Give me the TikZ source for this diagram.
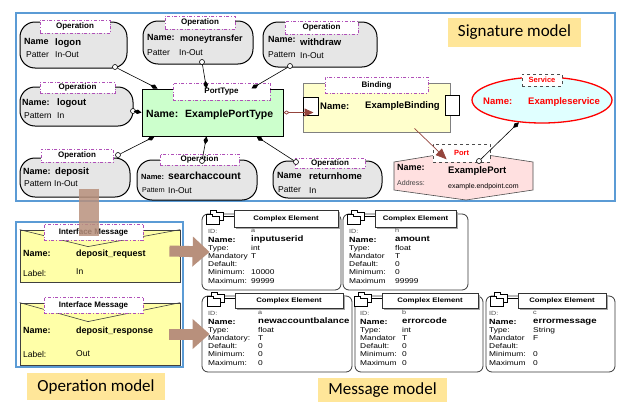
\documentclass[tikz,border=0pt]{standalone}
\usepackage{fontspec}
\setmainfont{Liberation Sans}
\newfontfamily\calib{Carlito}
\newfontfamily\cefont[FakeStretch=1.2]{Liberation Sans}
\usetikzlibrary{arrows.meta,calc,shapes.geometric,shadows}

\definecolor{opgray}{HTML}{E6E6E6}
\definecolor{tabpurple}{HTML}{B050B8}
\definecolor{frameblue}{HTML}{5B9BD5}
\definecolor{labelgold}{HTML}{FFE699}
\definecolor{ptgreen}{HTML}{CCFFCC}
\definecolor{bindyellow}{HTML}{FFFFCC}
\definecolor{envyellow}{HTML}{FFFFA8}
\definecolor{servcyan}{HTML}{E0FFFF}
\definecolor{portpink}{HTML}{FFE0E0}
\definecolor{blockbrown}{HTML}{B8907C}
\definecolor{linkbrown}{HTML}{94443C}

\tikzset{frameline/.style = {draw=black, line width=0.6pt, double, double distance=1.2pt},
         modelframe/.style = {draw=frameblue, line width=1.2pt},
         modellabel/.style = {fill=labelgold, inner sep=0pt, font=\calib\fontsize{17}{19}\selectfont},
         opbox/.style = {draw, line width=1pt, fill=opgray, rounded corners=15pt},
         optab/.style = {draw=tabpurple, dash dot, line width=0.7pt, fill=white, inner sep=0pt,
                         font=\fontsize{8}{9}\selectfont\bfseries},
         greytab/.style = {draw=gray!60!black, dashed, line width=0.7pt, fill=white, inner sep=0pt,
                           text=red, font=\fontsize{7.5}{8}\selectfont\bfseries},
         lbl/.style = {anchor=base west, inner sep=0pt},
         nm/.style = {lbl, font=\fontsize{9}{10}\selectfont\bfseries},
         opv/.style = {lbl, font=\fontsize{9.5}{11}\selectfont\bfseries},
         pat/.style = {lbl, font=\fontsize{8.5}{10}\selectfont},
         big/.style = {lbl, font=\fontsize{10.5}{12}\selectfont\bfseries},
         mid/.style = {lbl, font=\fontsize{9.5}{11}\selectfont\bfseries},
         small/.style = {lbl, font=\fontsize{7}{8}\selectfont},
         pin/.style = {circle, draw, line width=0.6pt, fill=white, inner sep=0pt, minimum size=5pt},
         comp/.style = {draw, line width=0.6pt, -{Diamond[length=8pt,width=4.5pt]}},
         link/.style = {draw=linkbrown, line width=0.7pt,
                        {Diamond[open,length=6pt,width=4pt]}-{Triangle[length=9pt,width=8pt]}},
         envbox/.style = {draw=black!75, line width=0.8pt, fill=envyellow},
         blockarrow/.style = {draw=blockbrown, line width=11pt, -{Triangle[length=17pt,width=29pt]}},
         blockshaft/.style = {draw=blockbrown, line width=20pt, draw opacity=0.85},
         cebox/.style = {draw=gray!45!black, line width=0.8pt, rounded corners=6pt, fill=white},
         cehead/.style = {draw=black!80, line width=0.6pt, fill=white, inner sep=0pt,
                          font=\cefont\fontsize{6.5}{7}\selectfont\bfseries,
                          drop shadow={shadow xshift=1.5pt, shadow yshift=-1.5pt, fill=gray!70, opacity=1}},
         ceid/.style = {lbl, text=black!70, font=\cefont\fontsize{6}{7}\selectfont},
         cename/.style = {lbl, font=\cefont\fontsize{7.5}{8}\selectfont\bfseries},
         ceval/.style = {lbl, font=\cefont\fontsize{8}{9}\selectfont\bfseries},
         cetxt/.style = {lbl, font=\cefont\fontsize{7}{8}\selectfont},
         folder/.pic = {
           \draw[line width=0.5pt, fill=white] (-23,-6) -- (-23,-8) -- (-17,-8) -- (-17,-6) -- (-10,-6) -- (-10,2) -- (-23,2) -- cycle;
           \draw[line width=0.5pt, fill=white] (-27,-2) -- (-27,-4) -- (-21,-4) -- (-21,-2) -- (-14,-2) -- (-14,6) -- (-27,6) -- cycle;
           \draw[line width=0.5pt] (-10,-2) -- (0,-2);
         }
        }

\begin{document}
\begin{tikzpicture}[x=1pt,y=-1pt]
  \useasboundingbox (0,0) rectangle (621,407);
  % frames
  \draw[frameline] (621,6) -- (6,6) -- (6,401) -- (621,401);
  \draw[modelframe] (16,13) rectangle (615,201);
  \draw[modelframe] (16,222) rectangle (183,367);

  % operations
  \node[opbox, minimum width=107pt, minimum height=46pt] (logon) at (73.5,45) {};
  \node[optab, minimum width=70pt, minimum height=13pt] (logontab) at (75,26.5) {Operation};
  \node[nm] (logonn) at (24,44) {Name};
  \node[opv] (logonv) at (55,45) {logon};
  \node[pat] (logonp) at (26,57) {Patter};
  \node[pat] (logonq) at (55,57) {In-Out};

  \node[opbox, minimum width=110pt, minimum height=43pt] (money) at (198,42.5) {};
  \node[optab, minimum width=70pt, minimum height=13pt] (moneytab) at (200,22.5) {Operation};
  \node[nm] (moneyn) at (147,40) {Name:};
  \node[nm] (moneyv) at (180,41) {moneytransfer};
  \node[pat] (moneyp) at (147,55) {Patter};
  \node[pat] (moneyq) at (179,55) {In-Out};

  \node[opbox, minimum width=114pt, minimum height=45pt] (withdraw) at (320,44.5) {};
  \node[optab, minimum width=73pt, minimum height=13pt] (withdrawtab) at (321.5,27.5) {Operation};
  \node[nm] (withdrawn) at (268,42) {Name:};
  \node[opv] (withdrawv) at (300,45) {withdraw};
  \node[pat] (withdrawp) at (268,57) {Pattern};
  \node[pat] (withdrawq) at (300,58) {In-Out};

  \node[opbox, minimum width=113pt, minimum height=39pt] (logout) at (76.5,106.5) {};
  \node[optab, minimum width=75pt, minimum height=11pt] (logouttab) at (77.5,87.5) {Operation};
  \node[nm] (logoutn) at (22,105) {Name:};
  \node[opv] (logoutv) at (57,105) {logout};
  \node[pat] (logoutp) at (24,118) {Pattern};
  \node[pat] (logoutq) at (57,118) {In};

  \node[opbox, minimum width=110pt, minimum height=39pt] (deposit) at (75,177.5) {};
  \node[optab, minimum width=72pt, minimum height=13pt] (deposittab) at (77,155.5) {Operation};
  \node[nm] (depositn) at (23,174) {Name:};
  \node[opv] (depositv) at (55,174) {deposit};
  \node[pat] (depositp) at (24,186) {Pattern};
  \node[pat] (depositq) at (54,186) {In-Out};

  \node[opbox, minimum width=120pt, minimum height=40pt] (search) at (197,180) {};
  \node[optab, minimum width=79pt, minimum height=11pt] (searchtab) at (199.5,159.5) {Operation};
  \node[lbl, font=\fontsize{7.5}{9}\selectfont\bfseries] (searchn) at (141,179) {Name:};
  \node[lbl, font=\fontsize{10.3}{12}\selectfont\bfseries] (searchv) at (168,179) {searchaccount};
  \node[lbl, font=\fontsize{7}{8}\selectfont] (searchp) at (142,192) {Pattern};
  \node[pat] (searchq) at (168,193) {In-Out};

  \node[opbox, minimum width=109pt, minimum height=37pt] (return) at (327.5,179.5) {};
  \node[optab, minimum width=70pt, minimum height=10pt] (returntab) at (330,163) {Operation};
  \node[nm] (returnn) at (277,178) {Name};
  \node[opv] (returnv) at (309,179) {returnhome};
  \node[pat] (returnp) at (278,192) {Patter};
  \node[pat] (returnq) at (309,193) {In};

  % port type
  \node[draw, line width=1pt, fill=ptgreen, minimum width=141pt, minimum height=47pt] (ptype) at (212.5,112.5) {};
  \node[optab, minimum width=97pt, minimum height=17pt] (ptypetab) at (221.5,91.5) {PortType};
  \node[big] (ptypen) at (146,117) {Name:};
  \node[big] (ptypev) at (185,117) {ExamplePortType};

  % binding
  \node[draw=gray, line width=0.8pt, fill=bindyellow, minimum width=147pt, minimum height=49pt] (binding) at (376.5,107.5) {};
  \node[draw, line width=0.6pt, fill=white, inner sep=0pt, minimum width=14pt, minimum height=20pt] (bindr) at (452,105) {};
  \node[draw, line width=0.6pt, fill=white, inner sep=0pt, minimum width=15pt, minimum height=18pt] (bindl) at (310.5,106) {};
  \node[optab, minimum width=103pt, minimum height=16pt] (bindtab) at (376.5,85) {Binding};
  \node[mid] (bindn) at (320,109) {Name:};
  \node[mid] (bindv) at (365,108) {ExampleBinding};

  % service
  \node[ellipse, draw=red, line width=1.3pt, fill=servcyan, minimum width=140pt, minimum height=46pt] (service) at (542,100) {};
  \node[greytab, minimum width=40pt, minimum height=12pt] (servtab) at (542,80) {Service};
  \node[mid, text=red] (servn) at (483,104) {Name:};
  \node[mid, text=red] (servv) at (528,104) {Exampleservice};

  % port
  \draw[draw=gray!60!black, fill=portpink, line width=0.6pt] (394,162) -- (461,151) -- (533,162) -- (533,190) -- (466,200) -- (394,190) -- cycle;
  \node[greytab, minimum width=57pt, minimum height=18pt] (porttab) at (461.5,153) {Port};
  \node[nm] (portn) at (397,170) {Name:};
  \node[mid] (portv) at (448,173) {ExamplePort};
  \node[small, text=black!75] (porta) at (397,185) {Address:};
  \node[small] (portb) at (448,188) {example.endpoint.com};

  % pins and connectors
  \node[pin] (logonpin) at (115,67) {};
  \node[pin] (moneypin) at (202,62) {};
  \node[pin] (withdrawpin) at (290,66) {};
  \node[pin] (logoutpin) at (133,111) {};
  \node[pin] (depositpin) at (118,155) {};
  \node[pin] (searchpin) at (202,161) {};
  \node[pin] (returnpin) at (296,162) {};
  \node[pin] (portpin) at (479,161) {};
  \draw[comp] (logonpin) -- ([xshift=16pt]ptype.north west);
  \draw[comp] (moneypin) -- ([xshift=65pt]ptype.north west);
  \draw[comp] (withdrawpin) -- ([xshift=110pt]ptype.north west);
  \draw[comp] (logoutpin) -- (ptype.west);
  \draw[comp] (depositpin) -- ([xshift=13pt]ptype.south west);
  \draw[comp] (searchpin) -- ([xshift=65pt]ptype.south west);
  \draw[comp] (returnpin) -- ([xshift=115pt]ptype.south west);
  \draw[comp] (portpin) -- (service.-136);
  \draw[link] (ptype.east) -- ($(ptype.east -| bindl.center)+(3,0)$);
  \draw[link, -{Triangle[length=11pt,width=9pt]}] ($(binding.south)+(38,-4)$) -- ($(porttab.south west)+(14,-3)$);

  % interface messages
  \node[envbox, minimum width=160pt, minimum height=52pt] (req) at (100,256) {};
  \draw[line width=0.6pt, black!75] (req.north west) -- ($(req.north)+(-12,17)$) -- (req.north east);
  \node[optab, minimum width=99pt, minimum height=16pt] (reqtab) at (93.5,232) {Interface Message};
  \node[nm] (reqn) at (23,256) {Name:};
  \node[nm] (reqv) at (76,256) {deposit\_request};
  \node[pat] (reqp) at (23,276) {Label:};
  \node[pat] (reqq) at (76,274) {In};

  \node[envbox, minimum width=160pt, minimum height=62pt] (resp) at (100,334) {};
  \draw[line width=0.6pt, black!75] (resp.north west) -- ($(resp.north)+(-12,19)$) -- (resp.north east);
  \node[optab, minimum width=99pt, minimum height=16pt] (resptab) at (93.5,305) {Interface Message};
  \node[nm] (respn) at (23,333) {Name:};
  \node[nm] (respv) at (76,333) {deposit\_response};
  \node[pat] (respp) at (23,357) {Label:};
  \node[pat] (respq) at (76,356) {Out};

  % complex elements
  \node[cebox, minimum width=139pt, minimum height=76pt] (ce1) at (271.5,252) {};
  \node[cehead, minimum width=104pt, minimum height=17pt] (ce1h) at (286,218.5) {Complex Element};
  \pic at (ce1h.west) {folder};
  \node[ceid] (ce1ia) at (208,233) {ID:};
  \node[ceid] (ce1ib) at (251,232) {a};
  \node[cename] (ce1na) at (208,242) {Name:};
  \node[ceval] (ce1nb) at (251,241) {inputuserid};
  \foreach \lab/\val [count=\i] in {Type:/int, Mandatory/T, Default:/, Minimum:/10000, Maximum:/99999}
    {\node[cetxt] (ce1a\i) at (208,{242+8.2*\i}) {\lab};
     \node[cetxt] (ce1b\i) at (251,{242+8.2*\i}) {\val};}

  \node[cebox, minimum width=125pt, minimum height=76pt] (ce2) at (405.5,252) {};
  \node[cehead, minimum width=81pt, minimum height=17pt] (ce2h) at (415.5,218.5) {Complex Element};
  \pic at (ce2h.west) {folder};
  \node[ceid] (ce2ia) at (349,233) {ID:};
  \node[ceid] (ce2ib) at (395,232) {h};
  \node[cename] (ce2na) at (349,242) {Name:};
  \node[ceval] (ce2nb) at (395,241) {amount};
  \foreach \lab/\val [count=\i] in {Type:/float, Mandator/T, Default:/0, Minimum:/0, Maximum/99999}
    {\node[cetxt] (ce2a\i) at (349,{242+8.2*\i}) {\lab};
     \node[cetxt] (ce2b\i) at (395,{242+8.2*\i}) {\val};}

  \node[cebox, minimum width=150pt, minimum height=76pt] (ce3) at (277,334) {};
  \node[cehead, minimum width=108pt, minimum height=15pt] (ce3h) at (289,300.5) {Complex Element};
  \pic at (ce3h.west) {folder};
  \node[ceid] (ce3ia) at (208,315) {ID:};
  \node[ceid] (ce3ib) at (258,314) {a};
  \node[cename] (ce3na) at (208,324) {Name:};
  \node[ceval] (ce3nb) at (258,323) {newaccountbalance};
  \foreach \lab/\val [count=\i] in {Type:/float, Mandatory:/T, Default:/0, Minimum:/0, Maximum:/0}
    {\node[cetxt] (ce3a\i) at (208,{324+8.2*\i}) {\lab};
     \node[cetxt] (ce3b\i) at (258,{324+8.2*\i}) {\val};}

  \node[cebox, minimum width=128pt, minimum height=76pt] (ce4) at (419,334) {};
  \node[cehead, minimum width=96pt, minimum height=15pt] (ce4h) at (430,300.5) {Complex Element};
  \pic at (ce4h.west) {folder};
  \node[ceid] (ce4ia) at (360,315) {ID:};
  \node[ceid] (ce4ib) at (402,314) {b};
  \node[cename] (ce4na) at (360,324) {Name:};
  \node[ceval] (ce4nb) at (402,323) {errorcode};
  \foreach \lab/\val [count=\i] in {Type:/int, Mandator/T, Default:/0, Minimum:/0, Maximum/0}
    {\node[cetxt] (ce4a\i) at (360,{324+8.2*\i}) {\lab};
     \node[cetxt] (ce4b\i) at (402,{324+8.2*\i}) {\val};}

  \node[cebox, minimum width=129pt, minimum height=76pt] (ce5) at (550.5,334) {};
  \node[cehead, minimum width=88pt, minimum height=15pt] (ce5h) at (562,300.5) {Complex Element};
  \pic at (ce5h.west) {folder};
  \node[ceid] (ce5ia) at (489,315) {ID:};
  \node[ceid] (ce5ib) at (533,314) {c};
  \node[cename] (ce5na) at (489,324) {Name:};
  \node[ceval] (ce5nb) at (533,323) {errormessage};
  \foreach \lab/\val [count=\i] in {Type:/String, Mandator/F, Default:/, Minimum:/0, Maximum/0}
    {\node[cetxt] (ce5a\i) at (489,{324+8.2*\i}) {\lab};
     \node[cetxt] (ce5b\i) at (533,{324+8.2*\i}) {\val};}

  % block arrows
  \draw[blockarrow] ([xshift=-11pt,yshift=5pt]req.east) -- ([xshift=8pt]ce1.west);
  \draw[blockarrow] ([xshift=-11pt]resp.east) -- ([xshift=8pt]ce3.west);
  \draw[blockshaft] ([xshift=14pt,yshift=9pt]deposit.south) -- ([xshift=-4.5pt,yshift=4pt]reqtab.south);

  % model labels
  \node[modellabel, minimum width=133pt, minimum height=29pt] (sigmodel) at (514.5,32.5) {Signature model};
  \node[modellabel, minimum width=138pt, minimum height=27pt] (opmodel) at (96,386.5) {Operation model};
  \node[modellabel, minimum width=129pt, minimum height=24pt] (msgmodel) at (382.5,390) {Message model};
\end{tikzpicture}
\end{document}
